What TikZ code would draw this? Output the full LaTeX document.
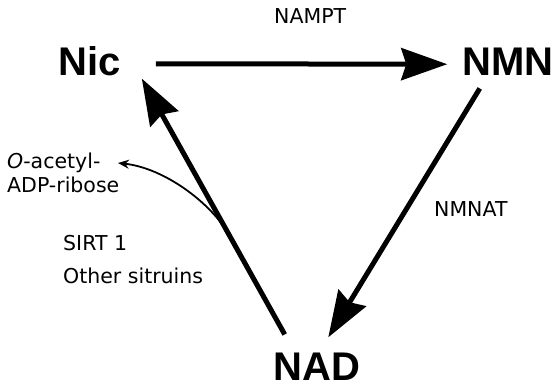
\documentclass[tikz,border=0pt]{standalone}
\usepackage{fontspec}
\setmainfont{Liberation Sans}
\newfontfamily\enzfont{DejaVu Sans}
\usetikzlibrary{arrows.meta,calc,positioning}

\begin{document}
\begin{tikzpicture}[x=1pt, y=-1pt,
        every node/.style={inner sep=0pt},
        metab/.style={font=\fontsize{40}{40}\selectfont\bfseries, inner sep=3pt, anchor=base},
        enz/.style={font=\enzfont\fontsize{20.5}{25}\selectfont, anchor=base west},
        ar/.style={-{Stealth[length=46pt, width=32pt, inset=5pt]}, line width=5pt},
        sar/.style={-{Stealth[length=11pt, width=9pt]}, line width=1.8pt}
    ]
        \useasboundingbox (0,0) rectangle (556,388);
        % metabolites
        \node[metab] (nic) at (89.5,75) {Nic};
        \node[metab] (nmn) at (508,75) {NMN};
        \node[metab] (nad) at (317,380) {NAD};
        % enzymes and products
        \node[enz] (nampt) at (274,23) {NAMPT};
        \node[enz] (nmnat) at (434,216) {NMNAT};
        \node[enz] (oac) at (7,168) {\textit{O}-acetyl-};
        \node[enz] (adpr) at (7,192) {ADP-ribose};
        \node[enz] (sirt) at (63,250) {SIRT 1};
        \node[enz] (sirto) at (63,283) {Other sitruins};
        % reactions
        \draw[ar, shorten <=32pt, shorten >=12pt] ([yshift=-3pt]nic.east) -- ([yshift=-3pt]nmn.west);
        \draw[ar, shorten <=12pt, shorten >=14pt] ([xshift=-22pt]nmn.south) -- ([xshift=4pt]nad.north);
        \draw[ar, shorten <=17pt] ([xshift=-24pt]nad.north) -- ([xshift=18pt]nic.south east);
        \coordinate (br) at ($([xshift=-24pt]nad.north)!0.4!([xshift=18pt]nic.south east)$);
        \coordinate (acend) at (118,163);
        \draw[sar] (br) .. controls (215,205) and (165,168) .. (acend);
    \end{tikzpicture}
\end{document}
